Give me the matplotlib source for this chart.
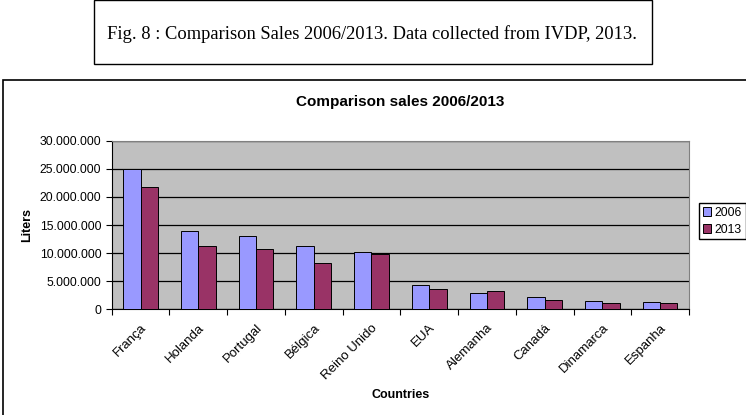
import matplotlib.pyplot as plt
import matplotlib.patches as patches
import matplotlib.transforms as mtransforms
from matplotlib.ticker import FuncFormatter
import numpy as np

countries = ['França', 'Holanda', 'Portugal', 'Bélgica', 'Reino Unido', 'EUA',
             'Alemanha', 'Canadá', 'Dinamarca', 'Espanha']
sales_2006 = [25000000, 14000000, 13100000, 11350000, 10200000, 4250000,
              2900000, 2200000, 1500000, 1350000]
sales_2013 = [21800000, 11350000, 10700000, 8200000, 9900000, 3700000,
              3250000, 1650000, 1200000, 1200000]
series_names = ['2006', '2013']
colors = ['#9999FF', '#993366']

plt.rcParams['font.family'] = ['Liberation Sans', 'DejaVu Sans']

W, H = 746, 415
fig = plt.figure(figsize=(W / 100, H / 100), dpi=100)

# caption box
fig.patches.append(patches.Rectangle((94 / W, 1 - 64 / H), (652 - 94) / W, 64 / H,
                                     transform=fig.transFigure, fill=False,
                                     edgecolor='black', lw=1))
fig.text(372 / W, 1 - 34 / H, 'Fig. 8 : Comparison Sales 2006/2013. Data collected from IVDP, 2013.',
         family=['Liberation Serif', 'DejaVu Serif'], fontsize=13.3, ha='center', va='center')

# chart frame
fig.patches.append(patches.Rectangle((3 / W, -0.05), 1.0, 1 - 80 / H + 0.05,
                                     transform=fig.transFigure, fill=False,
                                     edgecolor='black', lw=1.2))

ax = fig.add_axes([111.7 / W, 1 - 309.3 / H, (689 - 111.7) / W, (309.3 - 140.7) / H])
ax.set_facecolor('#C0C0C0')

x = np.arange(len(countries))
w = 0.3
ax.bar(x - w / 2, sales_2006, w, color=colors[0], edgecolor='black', lw=0.7,
       label=series_names[0], zorder=3)
ax.bar(x + w / 2, sales_2013, w, color=colors[1], edgecolor='black', lw=0.7,
       label=series_names[1], zorder=3)

ax.set_xlim(-0.5, len(countries) - 0.5)
ax.set_ylim(0, 30000000)
ax.set_yticks(np.arange(0, 30000001, 5000000))
ax.yaxis.set_major_formatter(FuncFormatter(lambda v, p: f'{int(v):,}'.replace(',', '.')))
ax.grid(axis='y', color='black', lw=0.9, zorder=1)

ax.set_xticks(np.arange(-0.5, len(countries)), minor=False)
ax.set_xticklabels([])
ax.set_xticks(x, minor=True)
ax.set_xticklabels(countries, minor=True, rotation=45, ha='right', rotation_mode='anchor',
                   fontsize=9.5)
shift = mtransforms.ScaledTranslation(-5 / 100, 0, fig.dpi_scale_trans)
for lab in ax.get_xticklabels(minor=True):
    lab.set_transform(lab.get_transform() + shift)
ax.tick_params(axis='x', which='minor', length=0, pad=9)
ax.tick_params(axis='x', which='major', length=4, direction='out', color='black')
ax.tick_params(axis='y', length=4, labelsize=8.8, color='black')

for s in ['top', 'right']:
    ax.spines[s].set_color('#808080')
for s in ['left', 'bottom']:
    ax.spines[s].set_color('black')

ax.set_title('Comparison sales 2006/2013', fontsize=11, fontweight='bold', pad=25)
ax.set_ylabel('Liters', fontsize=9, fontweight='bold', labelpad=5)
ax.set_xlabel('Countries', fontsize=9, fontweight='bold', labelpad=5)

fig.legend(loc='upper left', bbox_to_anchor=(699 / W, 1 - 203 / H), borderaxespad=0,
           fancybox=False, edgecolor='black', framealpha=1, fontsize=8.8,
           handlelength=0.7, handleheight=0.7, handletextpad=0.3,
           borderpad=0.3, labelspacing=0.4)

fig.savefig('out.png', dpi=100)
